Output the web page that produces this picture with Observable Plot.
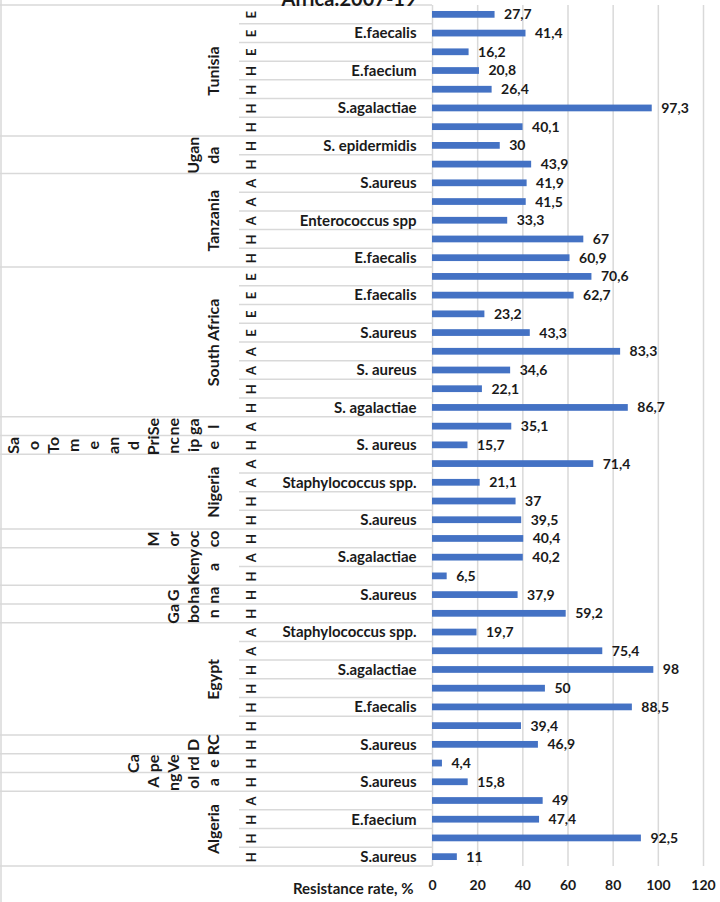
<!DOCTYPE html>
<html><head><meta charset="utf-8">
<script src="https://cdn.jsdelivr.net/npm/d3@7"></script>
<script src="https://cdn.jsdelivr.net/npm/@observablehq/plot@0.6"></script>
<style>
body{margin:0;background:#fff;}
#wrap{position:relative;width:720px;height:902px;overflow:hidden;background:#fff;}
#title{position:absolute;top:-14px;left:0;width:698px;text-align:center;font:bold 20px Lato,"Open Sans",sans-serif;color:#1a1a1a;z-index:2;}
</style></head>
<body>
<div id="wrap"><div id="chart"></div><div id="title">Africa:2007-19</div></div>
<script>
// Countries (top to bottom), number of rows each, and how the label wraps
const countries = ["Tunisia","Uganda","Tanzania","South Africa","Senegal","Sao Tome and Principe","Nigeria","Morocco","Kenya","Ghana","Gabon","Egypt","DRC","Cape Verde","Angola","Algeria"];
const countrySizes = [7,2,5,8,1,1,4,1,2,1,1,6,1,1,1,4];
const countryLines = [["Tunisia"],["Ugan","da"],["Tanzania"],["South Africa"],["Se","ne","ga","l"],["Sa","o","To","m","e","an","d","Pri","nc","ip","e"],["Nigeria"],["M","or","oc","co"],["Keny","a"],["G","ha","na"],["Ga","bo","n"],["Egypt"],["D","RC"],["Ca","pe","Ve","rd","e"],["A","ng","ol","a"],["Algeria"]];
// Source code per row (H / A / E)
const codes = ["E","E","E","H","H","H","H", "H","H", "A","A","A","H","H", "E","E","E","E","A","A","H","H", "A", "H", "A","A","H","H", "H", "A","H", "H", "H", "A","A","H","H","H","H", "H", "H", "H", "A","H","H","H"];
// Organism labels (only every other one shown)
const organisms = ["","E.faecalis","","E.faecium","","S.agalactiae","", "S. epidermidis","", "S.aureus","","Enterococcus spp","","E.faecalis", "","E.faecalis","","S.aureus","","S. aureus","","S. agalactiae", "","S. aureus", "","Staphylococcus spp.","","S.aureus", "", "S.agalactiae","", "S.aureus", "", "Staphylococcus spp.","","S.agalactiae","","E.faecalis","", "S.aureus", "", "S.aureus", "","E.faecium","","S.aureus"];
// Resistance rate, %
const values = [27.7,41.4,16.2,20.8,26.4,97.3,40.1, 30,43.9, 41.9,41.5,33.3,67,60.9, 70.6,62.7,23.2,43.3,83.3,34.6,22.1,86.7, 35.1, 15.7, 71.4,21.1,37,39.5, 40.4, 40.2,6.5, 37.9, 59.2, 19.7,75.4,98,50,88.5,39.4, 46.9, 4.4, 15.8, 49,47.4,92.5,11];
const xTicks = [0,20,40,60,80,100,120];

const rows = values.map((v,i)=>({i, value:v, code:codes[i], org:organisms[i]}));
const groupStarts = [];
{ let s=0; for (const n of countrySizes){ groupStarts.push(s); s+=n; } }
const countryText = [];
countries.forEach((c,gi)=>{
  const s = groupStarts[gi], n = countrySizes[gi], L = countryLines[gi];
  L.forEach((t,j)=>countryText.push({k: L.length-1-j, y: s+(n-1)/2, text:t}));
});
const maxK = d3.max(countryText, d=>d.k);

const FONT = "Lato, 'Open Sans', sans-serif";
const INK = "#1a1a1a";
const GRID = "#d9d9d9";

function tableLines(index, scales, values, dims){
  const y = scales.y;
  const g = d3.create("svg:g").attr("stroke", GRID).attr("stroke-width", 1.5).attr("fill","none");
  const n = rows.length;
  const starts = new Set(groupStarts); starts.add(n);
  for (let b=0; b<=n; b++){
    const yy = y(b-0.5);
    const x0 = starts.has(b) ? 0 : 239;
    g.append("line").attr("x1", x0).attr("x2", dims.marginLeft).attr("y1", yy).attr("y2", yy);
  }
  g.append("line").attr("x1",1).attr("x2",1).attr("y1",0).attr("y2",dims.height);
  return g.node();
}

const countryMarks = d3.range(maxK+1).map(k => Plot.text(countryText.filter(d=>d.k===k), {
  y:"y", text:"text", frameAnchor:"left", textAnchor:"middle", dx: -219 - k*20, rotate:-90,
  fontWeight:"bold", fontSize:16, fill:INK
}));

const plot = Plot.plot({
  width:720, height:902,
  marginLeft:432, marginRight:17, marginTop:5, marginBottom:36,
  style:{fontFamily:FONT, background:"#fff", color:INK},
  x:{domain:[0,120]},
  y:{domain:[-0.5, rows.length-0.5], range:[5,866], axis:null},
  marks:[
    Plot.ruleX(xTicks, {stroke:GRID, strokeWidth:1.5}),
    tableLines,
    Plot.rectX(rows, {x1:0, x2:"value", y1:d=>d.i-0.18, y2:d=>d.i+0.18, fill:"#4472C4"}),
    Plot.text(rows, {x:"value", y:"i", text:d=>String(d.value).replace(".", ","), dx:9, textAnchor:"start", fontWeight:"bold", fontSize:14, fill:INK}),
    Plot.text(rows, {y:"i", text:"code", frameAnchor:"left", textAnchor:"middle", dx:-181, rotate:-90, fontWeight:"bold", fontSize:13, fill:INK}),
    Plot.text(rows.filter(d=>d.org), {y:"i", text:"org", frameAnchor:"left", dx:-16, textAnchor:"end", fontWeight:"bold", fontSize:15, fill:INK}),
    ...countryMarks,
    Plot.axisX({ticks:xTicks, tickSize:0, tickPadding:14, fontWeight:"bold", fontSize:14, label:null, fill:INK}),
    Plot.text(["Resistance rate, %"], {frameAnchor:"bottom-left", dx:-19, dy:27, textAnchor:"end", fontWeight:"bold", fontSize:15, fill:INK})
  ]
});
document.getElementById("chart").appendChild(plot);
</script>
</body></html>
